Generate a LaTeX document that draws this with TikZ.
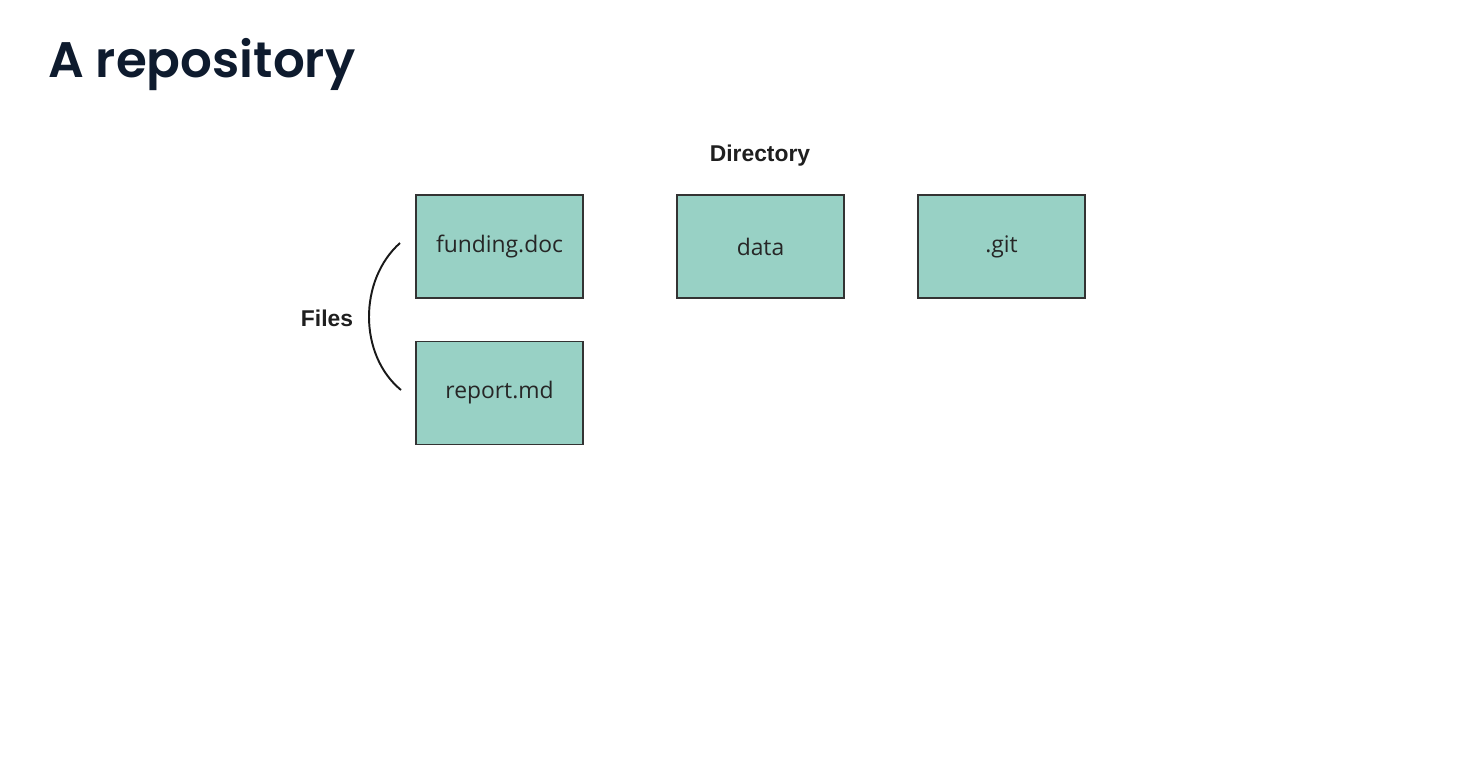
\documentclass[tikz,border=0pt]{standalone}
\usepackage{fontspec}
\setmainfont{Liberation Sans}
\IfFontExistsTF{Poppins SemiBold}
  {\newfontfamily\titlefont{Poppins SemiBold}}
  {\newfontfamily\titlefont{Poppins}}
\newfontfamily\boxfont{Open Sans}
\usetikzlibrary{positioning}

\definecolor{boxfill}{HTML}{98D1C5}
\definecolor{boxline}{HTML}{333333}
\definecolor{titleink}{HTML}{0E1B2E}

\begin{document}
\begin{tikzpicture}[
    box/.style={draw=boxline, line width=0.85pt, fill=boxfill, minimum width=3.34cm,
                minimum height=2.06cm, font=\boxfont\fontsize{13}{15}\selectfont,
                text=black!85, inner sep=0pt},
    label/.style={font=\fontsize{13}{15}\selectfont\bfseries, text=black!88},
    brace/.style={line width=1.1pt, black!90}
  ]
  \useasboundingbox[fill=white] (0,0) rectangle (29.6,-15.2);

  \node[anchor=base west, font=\titlefont\fontsize{28.4}{34}\selectfont,
        text=titleink, inner sep=0pt] (title) at (0.96,-1.54) {A repository};

  \node[box] (funding) at (9.99,-4.93) {funding.doc};
  \node[box, right=1.85cm of funding] (data) {data};
  \node[box, right=1.45cm of data] (git) {.git};
  \node[box, below=0.84cm of funding] (report) {report.md};

  \node[label] (directory) at (15.2,-3.12) {Directory};
  \node[label] (files) at (6.54,-6.36) {Files};

  \coordinate (top) at (8.0,-4.86);
  \coordinate (bottom) at (8.02,-7.8);
  \draw[brace] (top) .. controls (7.17,-5.6) and (7.17,-7.1) .. (bottom);
\end{tikzpicture}
\end{document}
